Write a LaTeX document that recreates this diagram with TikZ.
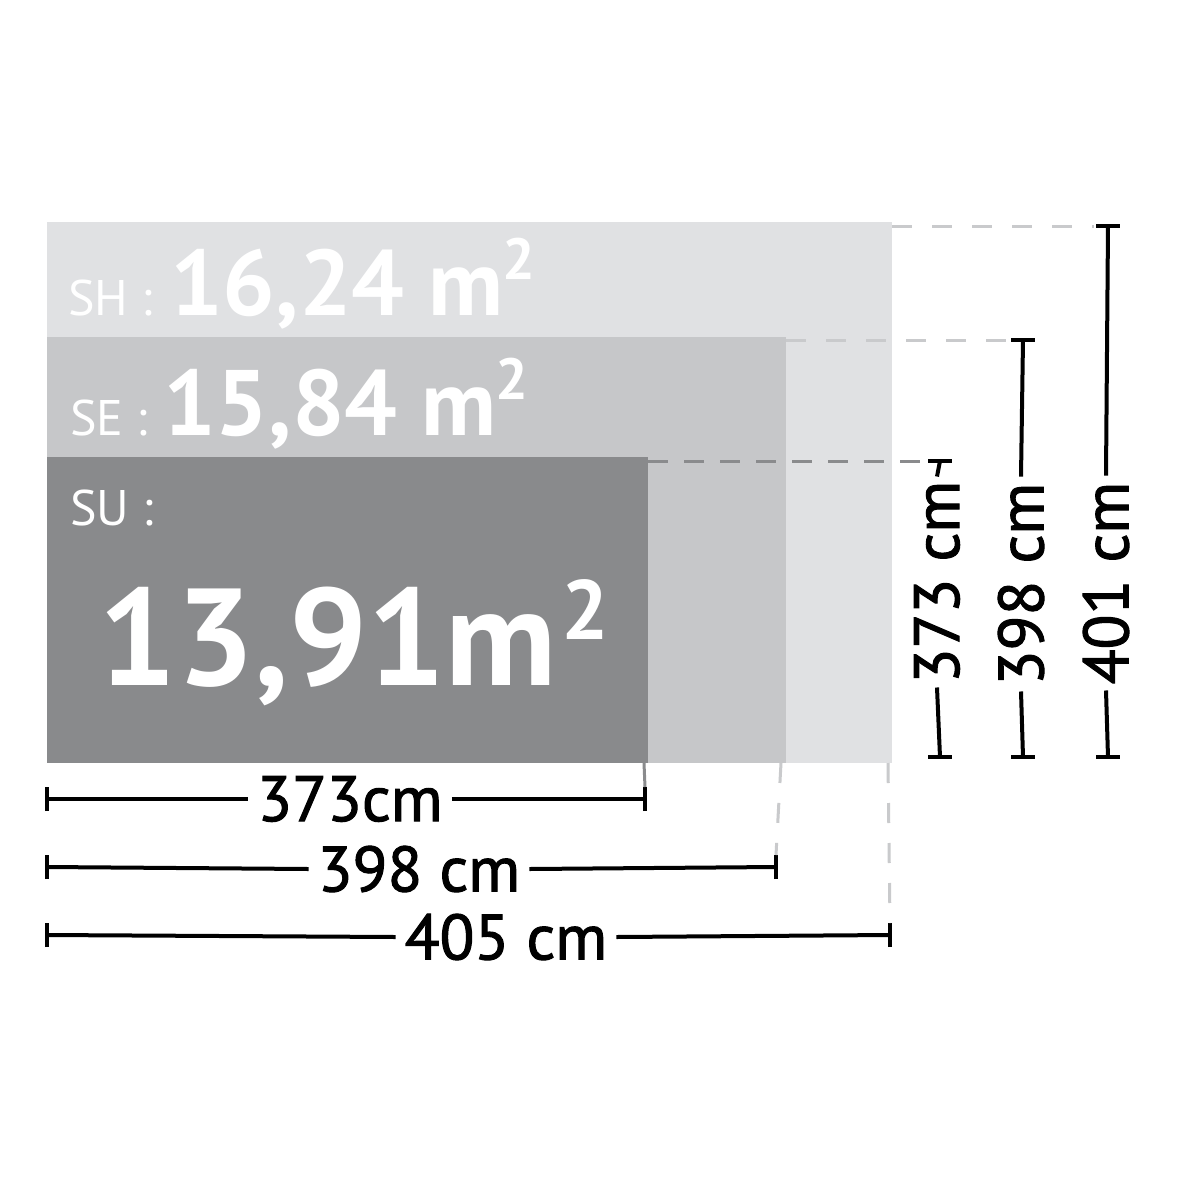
\documentclass[tikz,border=0pt]{standalone}
\usepackage{fontspec}
\setmainfont{PT Sans}
\newfontfamily\dimfont{PT Sans}[FakeBold=1.6]
\definecolor{shc}{HTML}{E0E1E3}
\definecolor{sec}{HTML}{C6C7C9}
\definecolor{suc}{HTML}{898A8C}
\definecolor{dashlight}{HTML}{C9CACC}
\definecolor{dashdark}{HTML}{8A8B8D}
\begin{document}
\begin{tikzpicture}[x=1pt,y=-1pt,
  lab/.style={text=white,inner sep=0pt,font=\fontsize{50}{50}\selectfont},
  big/.style={text=white,inner sep=0pt,font=\bfseries\fontsize{93}{93}\selectfont},
  huge/.style={text=white,inner sep=0pt,font=\bfseries\fontsize{138}{138}\selectfont},
  dimtxt/.style={text=black,inner sep=9pt,font=\dimfont\fontsize{64}{64}\selectfont},
  vdimtxt/.style={text=black,inner sep=6pt,rotate=90,font=\dimfont\fontsize{64}{64}\selectfont},
  dimline/.style={draw=black,line width=4pt},
  extlight/.style={draw=dashlight,line width=3pt,dash pattern=on 20pt off 20pt},
  extdark/.style={draw=dashdark,line width=3pt,dash pattern=on 20pt off 16pt}]
\useasboundingbox (0,0) rectangle (1200,1200);
\fill[white] (0,0) rectangle (1200,1200);
% areas
\fill[shc] (47,222) rectangle (892,763);
\fill[sec] (47,337) rectangle (786,763);
\fill[suc] (47,457) rectangle (648,763);
% corner coordinates
\coordinate (shTR) at (892,226);
\coordinate (seTR) at (786,340);
\coordinate (suTR) at (648,461);
\coordinate (suBR) at (644,763);
\coordinate (seBR) at (781,763);
\coordinate (shBR) at (888,763);
% area labels
\node[lab,anchor=base west] (shl) at (68,315) {SH :};
\node[big,anchor=base west] (shv) at (170,315) {16,24 m\raisebox{36pt}{\fontsize{58}{58}\selectfont 2}};
\node[lab,anchor=base west] (sel) at (70,435) {SE :};
\node[big,anchor=base west] (sev) at (163,435) {15,84 m\raisebox{36pt}{\fontsize{58}{58}\selectfont 2}};
\node[lab,anchor=base west] (sul) at (70,525) {SU :};
\node[huge,anchor=base west] (suv) at (98,685) {13,91m\kern4pt\raisebox{46pt}{\fontsize{84}{84}\selectfont 2}};
% horizontal dimensions
\coordinate (h1a) at (47,799); \coordinate (h1b) at (645,799);
\coordinate (h2a) at (47,867); \coordinate (h2b) at (776,867);
\coordinate (h3a) at (47,935); \coordinate (h3b) at (890,935);
\node[dimtxt] (h1t) at (350,799) {373cm};
\node[dimtxt] (h2t) at (419,869) {398 cm};
\node[dimtxt] (h3t) at (506,937) {405 cm};
\foreach \d in {1,2,3}{
  \draw[dimline] (h\d a) -- (h\d t.west);
  \draw[dimline] (h\d t.east) -- (h\d b);
  \draw[dimline] ([yshift=-12pt]h\d a) -- ([yshift=12pt]h\d a);
  \draw[dimline] ([yshift=-12pt]h\d b) -- ([yshift=12pt]h\d b);
}
% vertical dimensions
\coordinate (v1a) at (940,461); \coordinate (v1b) at (940,757);
\coordinate (v2a) at (1023,340); \coordinate (v2b) at (1023,757);
\coordinate (v3a) at (1108,226); \coordinate (v3b) at (1108,757);
\node[vdimtxt,inner sep=4pt] (v1t) at (937,582) {373 cm};
\node[vdimtxt] (v2t) at (1021,584) {398 cm};
\node[vdimtxt] (v3t) at (1106,583) {401 cm};
\foreach \d in {1,2,3}{
  \draw[dimline] (v\d a) -- (v\d t.east);
  \draw[dimline] (v\d t.west) -- (v\d b);
  \draw[dimline] ([xshift=-12pt]v\d a) -- ([xshift=12pt]v\d a);
  \draw[dimline] ([xshift=-12pt]v\d b) -- ([xshift=12pt]v\d b);
}
% extension lines
\draw[extlight] (shTR) -- ([xshift=-14pt]v3a);
\draw[extlight] (seTR) -- ([xshift=-14pt]v2a);
\draw[extdark] (suTR) -- ([xshift=-12pt]v1a);
\draw[draw=dashdark,line width=3pt] (suBR) -- ([yshift=12pt]h1b);
\draw[extlight] (seBR) -- ([yshift=12pt]h2b);
\draw[extlight] (shBR) -- ([yshift=12pt]h3b);
\end{tikzpicture}
\end{document}
